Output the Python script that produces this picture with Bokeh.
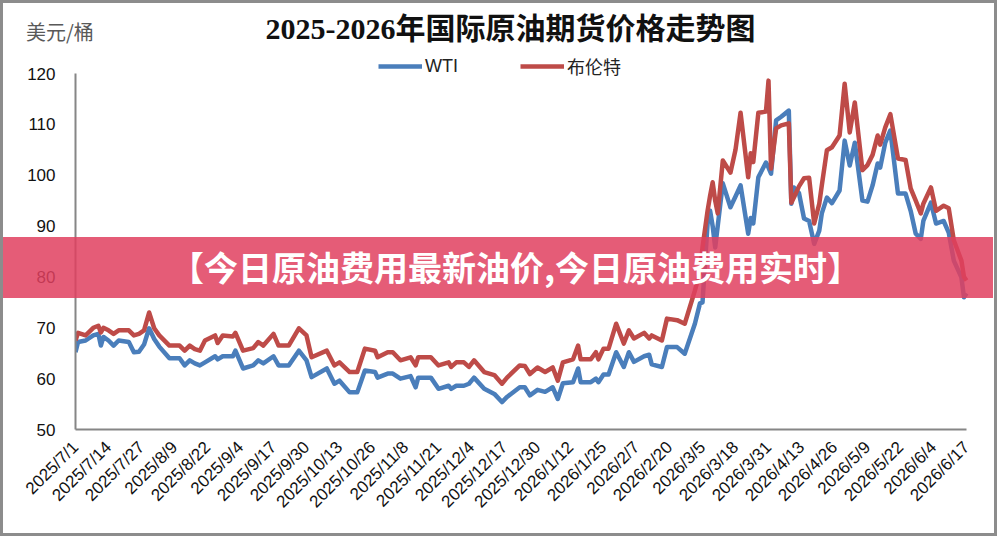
from math import pi
import pandas as pd
from bokeh.plotting import figure
from bokeh.models import (FixedTicker, Label, Legend, LegendItem, Range1d, Div)
from bokeh.embed import file_html
from bokeh.resources import INLINE

# ---------------- data ----------------
dates = [
    "2025-07-01", "2025-07-02", "2025-07-05", "2025-07-08", "2025-07-10", "2025-07-11", "2025-07-12", "2025-07-14", "2025-07-16", "2025-07-18",
    "2025-07-22", "2025-07-24", "2025-07-26", "2025-07-28", "2025-07-30", "2025-08-01", "2025-08-03", "2025-08-07", "2025-08-11", "2025-08-13",
    "2025-08-15", "2025-08-17", "2025-08-19", "2025-08-21", "2025-08-25", "2025-08-26", "2025-08-28", "2025-09-01", "2025-09-02", "2025-09-05",
    "2025-09-09", "2025-09-11", "2025-09-13", "2025-09-17", "2025-09-19", "2025-09-23", "2025-09-27", "2025-09-30", "2025-10-02", "2025-10-08",
    "2025-10-11", "2025-10-13", "2025-10-17", "2025-10-20", "2025-10-23", "2025-10-27", "2025-10-28", "2025-11-01", "2025-11-03", "2025-11-06",
    "2025-11-10", "2025-11-12", "2025-11-13", "2025-11-18", "2025-11-21", "2025-11-25", "2025-11-26", "2025-11-28", "2025-12-01", "2025-12-03",
    "2025-12-05", "2025-12-09", "2025-12-13", "2025-12-16", "2025-12-18", "2025-12-23", "2025-12-25", "2025-12-27", "2025-12-30", "2026-01-02",
    "2026-01-05", "2026-01-07", "2026-01-09", "2026-01-13", "2026-01-15", "2026-01-16", "2026-01-20", "2026-01-22", "2026-01-23", "2026-01-25",
    "2026-01-27", "2026-01-30", "2026-02-02", "2026-02-04", "2026-02-06", "2026-02-10", "2026-02-12", "2026-02-13", "2026-02-17", "2026-02-19",
    "2026-02-23", "2026-02-26", "2026-03-02", "2026-03-04", "2026-03-05", "2026-03-07", "2026-03-08", "2026-03-09", "2026-03-10", "2026-03-11",
    "2026-03-13", "2026-03-16", "2026-03-18", "2026-03-20", "2026-03-23", "2026-03-24", "2026-03-25", "2026-03-27", "2026-03-30", "2026-03-31",
    "2026-04-01", "2026-04-03", "2026-04-05", "2026-04-08", "2026-04-09", "2026-04-10", "2026-04-12", "2026-04-14", "2026-04-16", "2026-04-18",
    "2026-04-20", "2026-04-21", "2026-04-23", "2026-04-25", "2026-04-28", "2026-04-30", "2026-05-02", "2026-05-04", "2026-05-07", "2026-05-09",
    "2026-05-11", "2026-05-13", "2026-05-14", "2026-05-16", "2026-05-18", "2026-05-21", "2026-05-24", "2026-05-26", "2026-05-28", "2026-05-30",
    "2026-05-31", "2026-06-03", "2026-06-05", "2026-06-08", "2026-06-10", "2026-06-12", "2026-06-15", "2026-06-16", "2026-06-17",
]

wti = [
    65.2, 67.2, 67.5, 68.5, 68.8, 66.5, 68.2, 67.5, 66.5, 67.5,
    67.2, 65.2, 65.3, 66.7, 69.9, 67.8, 66.3, 64.0, 64.0, 62.6,
    63.6, 63.0, 62.6, 63.2, 64.4, 63.8, 64.4, 64.4, 65.5, 62.0,
    62.6, 63.6, 63.0, 64.4, 62.6, 62.6, 65.5, 63.6, 60.3, 62.0,
    59.0, 59.6, 57.3, 57.3, 61.6, 61.3, 60.2, 61.0, 61.0, 60.0,
    60.5, 58.3, 60.2, 60.2, 58.0, 58.6, 58.0, 58.6, 58.6, 59.0,
    60.2, 58.0, 57.0, 55.4, 56.4, 58.3, 58.3, 56.7, 57.8, 57.4,
    58.3, 56.0, 59.1, 59.3, 62.0, 59.3, 59.3, 60.0, 59.3, 60.8,
    60.8, 65.2, 62.3, 65.2, 63.3, 64.4, 64.7, 62.8, 62.3, 66.2,
    66.2, 64.9, 70.8, 74.8, 75.0, 90.5, 93.0, 90.0, 85.8, 90.0,
    98.4, 93.7, 95.8, 98.0, 88.5, 91.6, 90.5, 99.6, 102.5, 101.5,
    100.3, 110.8, 111.5, 112.7, 94.4, 97.6, 96.5, 91.5, 91.0, 86.5,
    89.1, 92.5, 95.6, 94.5, 97.0, 106.8, 101.9, 106.4, 95.0, 94.8,
    98.0, 102.3, 101.5, 106.4, 108.8, 96.4, 96.4, 93.0, 88.5, 87.5,
    91.0, 94.6, 90.5, 91.0, 88.7, 83.2, 79.9, 76.0, 76.8,
]

brent = [
    67.5, 69.0, 68.5, 70.0, 70.4, 69.1, 70.0, 69.5, 68.8, 69.5,
    69.5, 68.5, 68.8, 69.5, 73.0, 69.9, 68.5, 66.5, 66.5, 65.5,
    66.5, 65.8, 65.5, 67.5, 68.5, 67.0, 68.5, 68.3, 69.0, 65.5,
    66.0, 67.2, 66.5, 68.8, 66.5, 66.5, 69.9, 68.5, 64.2, 65.5,
    62.6, 63.2, 61.3, 61.3, 65.9, 65.5, 64.2, 65.2, 65.2, 63.6,
    64.2, 62.6, 64.2, 64.2, 62.6, 63.2, 62.3, 63.2, 63.2, 62.3,
    63.6, 61.3, 60.7, 59.0, 60.2, 62.6, 62.5, 60.9, 62.2, 61.3,
    62.2, 59.6, 63.2, 63.8, 66.5, 63.8, 63.8, 65.2, 63.8, 65.9,
    65.9, 70.8, 66.9, 69.5, 67.9, 69.0, 67.9, 68.5, 67.5, 71.8,
    71.5, 70.8, 77.3, 81.0, 85.8, 93.0, 96.0, 98.6, 95.0, 92.5,
    102.9, 100.5, 105.0, 112.3, 99.6, 104.3, 102.6, 112.3, 112.5, 118.6,
    101.3, 109.2, 109.8, 110.2, 94.6, 95.6, 97.8, 99.4, 99.5, 90.5,
    94.4, 98.0, 104.9, 105.5, 107.8, 118.0, 108.4, 114.3, 101.0, 102.0,
    104.0, 107.8, 106.0, 109.4, 112.0, 103.3, 103.0, 97.4, 95.0, 92.5,
    94.4, 97.6, 93.0, 94.0, 93.5, 87.2, 83.2, 80.0, 79.3,
]

tick_labels = [
    "2025/7/1", "2025/7/14", "2025/7/27", "2025/8/9", "2025/8/22", "2025/9/4", "2025/9/17",
    "2025/9/30", "2025/10/13", "2025/10/26", "2025/11/8", "2025/11/21", "2025/12/4", "2025/12/17",
    "2025/12/30", "2026/1/12", "2026/1/25", "2026/2/7", "2026/2/20", "2026/3/5", "2026/3/18",
    "2026/3/31", "2026/4/13", "2026/4/26", "2026/5/9", "2026/5/22", "2026/6/4", "2026/6/17",
]
y_ticks = [50, 60, 70, 80, 90, 100, 110, 120]

series_names = ["WTI", "布伦特"]
title_text = "2025-2026年国际原油期货价格走势图"
unit_text = "美元/桶"
banner_text = "【今日原油费用最新油价,今日原油费用实时】"

# ---------------- derived ----------------
start = pd.Timestamp(dates[0])
x_days = [(pd.Timestamp(d) - start).days for d in dates]
tick_days = [(pd.to_datetime(t, format="%Y/%m/%d") - start).days for t in tick_labels]

# ---------------- layout geometry ----------------
W, H = 997, 536
FL, FB = 75, 107            # left / bottom panels (axes)
AX_TOP, AX_RIGHT = 73, 966  # canvas pixels where y=120 and the last date fall
frame_h = H - FB
px_y = (frame_h - AX_TOP) / (y_ticks[-1] - y_ticks[0])
px_x = (AX_RIGHT - FL) / (tick_days[-1] - tick_days[0])
y_top = y_ticks[-1] + AX_TOP / px_y
x_right = tick_days[-1] + (W - AX_RIGHT) / px_x

p = figure(width=W, height=H, output_backend="svg", toolbar_location=None,
           title_location=None,
           x_range=Range1d(tick_days[0], x_right),
           y_range=Range1d(y_ticks[0], y_top),
           min_border_left=FL, min_border_right=0, min_border_top=0, min_border_bottom=FB)
p.outline_line_color = None
p.grid.visible = False
p.background_fill_color = "white"
p.border_fill_color = "white"

blue = "#4A7EBB"
red = "#BE4B48"
r1 = p.line(x_days, wti, line_color=blue, line_width=4.5, line_join="round")
r2 = p.line(x_days, brent, line_color=red, line_width=4.5, line_join="round")

# axes
yax = p.yaxis[0]
yax.ticker = FixedTicker(ticks=y_ticks)
yax.bounds = (y_ticks[0], y_ticks[-1])
yax.axis_line_color = "#868686"
yax.axis_line_width = 2
yax.major_tick_line_color = None
yax.minor_tick_line_color = None
yax.major_tick_out = 0
yax.major_tick_in = 0
yax.major_label_text_font = "Liberation Sans"
yax.major_label_text_font_size = "17px"
yax.major_label_text_color = "#111111"
yax.major_label_standoff = 20

xax = p.xaxis[0]
xax.ticker = FixedTicker(ticks=tick_days)
xax.bounds = (tick_days[0], tick_days[-1])
xax.major_label_overrides = {d: t for d, t in zip(tick_days, tick_labels)}
xax.major_label_orientation = pi / 4
xax.axis_line_color = "#868686"
xax.axis_line_width = 2
xax.major_tick_line_color = None
xax.minor_tick_line_color = None
xax.major_label_text_font = "Liberation Sans"
xax.major_label_text_font_size = "17px"
xax.major_label_text_color = "#111111"
xax.major_label_standoff = 9

# legend (in frame, top area)
legend = Legend(items=[LegendItem(label=series_names[0], renderers=[r1]),
                       LegendItem(label=series_names[1], renderers=[r2])],
                orientation="horizontal", location=(303, 350),
                glyph_width=44, glyph_height=18, label_standoff=3, spacing=62,
                padding=0, margin=0, border_line_color=None, background_fill_alpha=0,
                label_text_font="Liberation Sans, Noto Sans CJK SC",
                label_text_font_size="18px", label_text_color="#222222")
p.add_layout(legend)

# screen units: relative to frame (x from left, y up from bottom)
def sx(cx):
    return cx - FL
def sy(cy):
    return frame_h - cy

p.add_layout(Label(x=sx(510), y=sy(28), x_units="screen", y_units="screen", text=title_text,
                   text_align="center", text_baseline="middle",
                   text_font="Liberation Serif, Noto Sans CJK SC", text_font_size="30px",
                   text_font_style="bold", text_color="#111111"))

# unit label, banner overlay and outer grey frame as floating DOM elements
unit = Div(text=unit_text, width=90, height=24,
           styles={"position": "absolute", "left": "26px", "top": "22px",
                   "font-family": "'Noto Sans CJK SC'", "font-size": "20px",
                   "line-height": "20px", "color": "#595959", "white-space": "nowrap",
                   "z-index": "5"})
banner = Div(text=banner_text, width=993, height=61,
             styles={"position": "absolute", "left": "0px", "top": "237px",
                     "width": "993px", "height": "61px",
                     "background-color": "rgba(224, 64, 95, 0.85)",
                     "color": "white", "font-family": "'Noto Sans CJK SC'",
                     "font-size": "34px", "font-weight": "bold",
                     "display": "flex", "align-items": "center", "justify-content": "center",
                     "padding-left": "38px", "box-sizing": "border-box",
                     "z-index": "10", "pointer-events": "none"})
border = Div(text="", width=W, height=H,
             styles={"position": "absolute", "left": "0px", "top": "0px",
                     "width": f"{W}px", "height": f"{H}px",
                     "border": "3px solid #8C8C8C", "box-sizing": "border-box",
                     "z-index": "11", "pointer-events": "none"})
p.elements = [unit, banner, border]

open("out.html", "w").write(file_html(p, INLINE))
